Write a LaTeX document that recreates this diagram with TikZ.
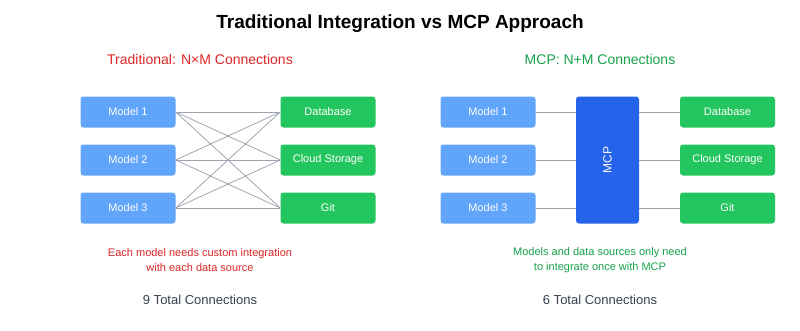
\documentclass[tikz,border=0pt]{standalone}
\usepackage{fontspec}
\setmainfont{Liberation Sans}
\begin{document}
\begin{tikzpicture}[x=1pt,y=-1pt,
  box/.style={rounded corners=3pt, minimum width=95pt, minimum height=31pt, inner sep=0pt, text=white, font=\fontsize{11}{13}\selectfont},
  model/.style={box, fill=modelblue},
  data/.style={box, fill=datagreen},
  conn/.style={draw=linegray, line width=0.75pt}]
\definecolor{modelblue}{HTML}{60A5FA}
\definecolor{datagreen}{HTML}{22C55E}
\definecolor{mcpblue}{HTML}{2563EB}
\definecolor{linegray}{HTML}{9CA3AF}
\definecolor{tred}{HTML}{DC2626}
\definecolor{tgreen}{HTML}{16A34A}
\definecolor{tdark}{HTML}{374151}
\useasboundingbox[fill=white] (0,0) rectangle (800,330);
\node (title) at (400,24) {\fontsize{19}{22}\selectfont\bfseries Traditional Integration vs MCP Approach};
\node[text=tred] (lt) at (200,59) {\fontsize{14}{16}\selectfont Traditional: N×M Connections};
\node[text=tgreen] (rt) at (600,59) {\fontsize{14}{16}\selectfont MCP: N+M Connections};
% left
\node[model] (m1) at (128,112) {Model 1};
\node[model] (m2) at (128,160) {Model 2};
\node[model] (m3) at (128,208) {Model 3};
\node[data] (d1) at (328,112) {Database};
\node[data] (d2) at (328,160) {Cloud Storage};
\node[data] (d3) at (328,208) {Git};
\foreach \a in {m1,m2,m3}{\foreach \b in {d1,d2,d3}{\draw[conn] (\a.east) -- (\b.west);}}
\node[text=tred, align=center, font=\fontsize{11}{15.5}\selectfont] (ln) at (200,260) {Each model needs custom integration\\with each data source};
\node[text=tdark, font=\fontsize{13}{15}\selectfont] (lc) at (200,300) {9 Total Connections};
% right
\node[model] (n1) at (488,112) {Model 1};
\node[model] (n2) at (488,160) {Model 2};
\node[model] (n3) at (488,208) {Model 3};
\node[rounded corners=3pt, fill=mcpblue, minimum width=63pt, minimum height=127pt, inner sep=0pt] (mcp) at (607.5,160) {};
\node[text=white, rotate=90, font=\fontsize{12}{14}\selectfont] (mcpl) at (mcp.center) {MCP};
\node[data] (e1) at (727.5,112) {Database};
\node[data] (e2) at (727.5,160) {Cloud Storage};
\node[data] (e3) at (727.5,208) {Git};
\foreach \i in {1,2,3}{
  \draw[conn] (n\i.east) -- (n\i.east -| mcp.west);
  \draw[conn] (e\i.west -| mcp.east) -- (e\i.west);
}
\node[text=tgreen, align=center, font=\fontsize{11}{15.5}\selectfont] (rn) at (600,260) {Models and data sources only need\\to integrate once with MCP};
\node[text=tdark, font=\fontsize{13}{15}\selectfont] (rc) at (600,300) {6 Total Connections};
\end{tikzpicture}
\end{document}
